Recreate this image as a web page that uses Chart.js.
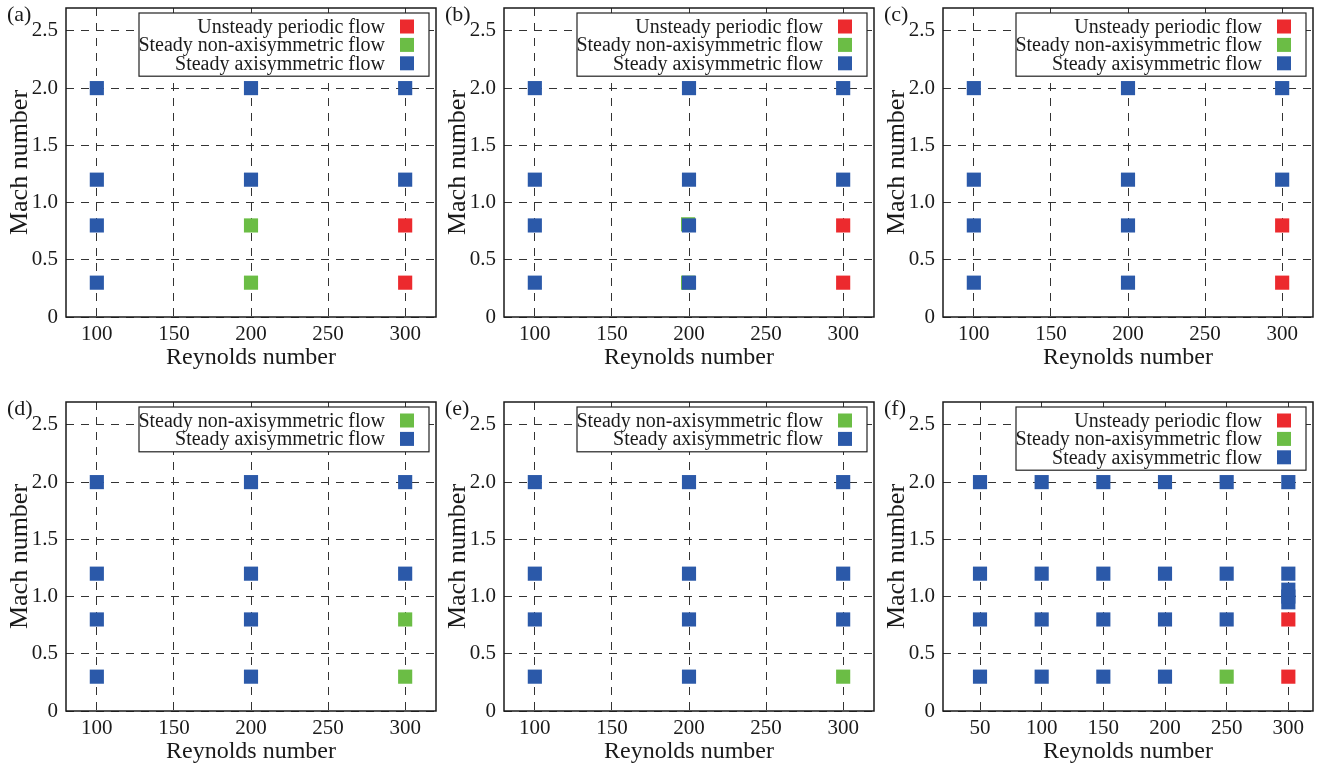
<!DOCTYPE html>
<html>
<head>
<meta charset="utf-8">
<script src="https://cdn.jsdelivr.net/npm/chart.js@4.4.1/dist/chart.umd.min.js"></script>
<style>
  html, body { margin: 0; padding: 0; background: #fff; width: 1322px; height: 769px; overflow: hidden; }
  .panel { position: absolute; width: 440px; height: 385px; }
</style>
</head>
<body>
<div class="panel" style="left:0;top:0"><canvas id="pa" width="440" height="385"></canvas></div>
<div class="panel" style="left:438px;top:0"><canvas id="pb" width="440" height="385"></canvas></div>
<div class="panel" style="left:877px;top:0"><canvas id="pc" width="440" height="385"></canvas></div>
<div class="panel" style="left:0;top:394px"><canvas id="pd" width="440" height="385"></canvas></div>
<div class="panel" style="left:438px;top:394px"><canvas id="pe" width="440" height="385"></canvas></div>
<div class="panel" style="left:877px;top:394px"><canvas id="pf" width="440" height="385"></canvas></div>
<script>
// tick values
const reTicks = [100, 150, 200, 250, 300];
const reTicksF = [50, 100, 150, 200, 250, 300];
const machTicks = [0, 0.5, 1.0, 1.5, 2.0, 2.5];

// (a)
const aUnsteady = [[300, 0.3], [300, 0.8]];
const aNonAxi = [[200, 0.3], [200, 0.8]];
const aAxi = [[100, 0.3], [100, 0.8], [100, 1.2], [100, 2.0], [200, 1.2], [200, 2.0], [300, 1.2], [300, 2.0]];
// (b)
const bUnsteady = [[300, 0.3], [300, 0.8]];
const bNonAxi = [[199.4, 0.3], [199.4, 0.81]];
const bAxi = [[100, 0.3], [100, 0.8], [100, 1.2], [100, 2.0], [200, 0.3], [200, 0.8], [200, 1.2], [200, 2.0], [300, 1.2], [300, 2.0]];
// (c)
const cUnsteady = [[300, 0.3], [300, 0.8]];
const cNonAxi = [];
const cAxi = [[100, 0.3], [100, 0.8], [100, 1.2], [100, 2.0], [200, 0.3], [200, 0.8], [200, 1.2], [200, 2.0], [300, 1.2], [300, 2.0]];
// (d)
const dNonAxi = [[300, 0.3], [300, 0.8]];
const dAxi = [[100, 0.3], [100, 0.8], [100, 1.2], [100, 2.0], [200, 0.3], [200, 0.8], [200, 1.2], [200, 2.0], [300, 1.2], [300, 2.0]];
// (e)
const eNonAxi = [[300, 0.3]];
const eAxi = [[100, 0.3], [100, 0.8], [100, 1.2], [100, 2.0], [200, 0.3], [200, 0.8], [200, 1.2], [200, 2.0], [300, 0.8], [300, 1.2], [300, 2.0]];
// (f)
const fUnsteady = [[300, 0.3], [300, 0.8]];
const fNonAxi = [[250, 0.3]];
const fAxi = [
  [50, 0.3], [50, 0.8], [50, 1.2], [50, 2.0],
  [100, 0.3], [100, 0.8], [100, 1.2], [100, 2.0],
  [150, 0.3], [150, 0.8], [150, 1.2], [150, 2.0],
  [200, 0.3], [200, 0.8], [200, 1.2], [200, 2.0],
  [250, 0.8], [250, 1.2], [250, 2.0],
  [300, 0.95], [300, 1.0], [300, 1.06], [300, 1.2], [300, 2.0]
];

const RED = '#ec2a2e';
const GREEN = '#6bbd45';
const BLUE = '#2b59a9';
const SERIF = '"Liberation Serif", "Times New Roman", serif';

const unsteady = (pts) => ({ label: 'Unsteady periodic flow', color: RED, pts, order: 1 });
const nonAxi = (pts) => ({ label: 'Steady non-axisymmetric flow', color: GREEN, pts, order: 2 });
const axi = (pts) => ({ label: 'Steady axisymmetric flow', color: BLUE, pts, order: 0 });

// box, legend and panel letter
const framePlugin = {
  id: 'frame',
  afterDatasetsDraw(chart, args, opts) {
    const { ctx, chartArea: a } = chart;
    ctx.save();
    ctx.strokeStyle = '#1a1a1a';
    ctx.lineWidth = 1.5;
    ctx.strokeRect(a.left, a.top, a.right - a.left, a.bottom - a.top);

    const sets = chart.data.datasets;
    const lineH = 18.4;
    const boxR = a.right - 7;
    const boxW = 290;
    const boxT = a.top + 5;
    const boxH = lineH * sets.length + 8;
    ctx.fillStyle = '#fff';
    ctx.fillRect(boxR - boxW, boxT, boxW, boxH);
    ctx.lineWidth = 1.2;
    ctx.strokeStyle = '#222';
    ctx.strokeRect(boxR - boxW, boxT, boxW, boxH);
    ctx.font = `20px ${SERIF}`;
    ctx.textAlign = 'right';
    ctx.textBaseline = 'middle';
    sets.forEach((ds, i) => {
      const cy = boxT + 13.5 + i * lineH;
      ctx.fillStyle = '#1a1a1a';
      ctx.fillText(ds.label, boxR - 44, cy + 1);
      ctx.fillStyle = ds.backgroundColor;
      ctx.fillRect(boxR - 29, cy - 7, 14, 14);
    });

    ctx.fillStyle = '#1a1a1a';
    ctx.font = `22px ${SERIF}`;
    ctx.textAlign = 'left';
    ctx.textBaseline = 'top';
    ctx.fillText(opts.label, 7, a.top - 4);
    ctx.restore();
  }
};

const makePanel = (id, letter, series, xTicks, xMin) => {
  new Chart(document.getElementById(id), {
    type: 'scatter',
    data: {
      datasets: series.map((s) => ({
        label: s.label,
        data: s.pts.map(([x, y]) => ({ x, y })),
        backgroundColor: s.color,
        borderWidth: 0,
        pointStyle: 'rect',
        pointRadius: 10,
        pointHoverRadius: 10,
        order: s.order,
      })),
    },
    options: {
      responsive: false,
      animation: false,
      events: [],
      layout: { autoPadding: false, padding: { top: 8, right: 4, left: 0, bottom: 0 } },
      plugins: {
        legend: { display: false },
        tooltip: { enabled: false },
        frame: { label: letter },
      },
      scales: {
        x: {
          type: 'linear',
          min: xMin,
          max: 320,
          afterBuildTicks: (scale) => { scale.ticks = xTicks.map((value) => ({ value })); },
          afterFit: (scale) => {
            scale.height = 68;
            scale.paddingLeft = 0;
            scale.paddingRight = 0;
          },
          grid: { color: '#333', lineWidth: 1, drawTicks: false },
          border: { display: false, dash: [8, 7] },
          ticks: { color: '#1a1a1a', font: { family: SERIF, size: 21 }, padding: 5, autoSkip: false, maxRotation: 0 },
          title: {
            display: true,
            text: 'Reynolds number',
            color: '#1a1a1a',
            font: { family: SERIF, size: 24 },
            padding: { top: 0, bottom: 13 },
          },
        },
        y: {
          type: 'linear',
          min: 0,
          max: 2.7,
          afterBuildTicks: (scale) => { scale.ticks = machTicks.map((value) => ({ value })); },
          afterFit: (scale) => {
            scale.width = 66;
            scale.paddingTop = 0;
            scale.paddingBottom = 0;
          },
          grid: { color: '#333', lineWidth: 1, drawTicks: false },
          border: { display: false, dash: [8, 7] },
          ticks: {
            color: '#1a1a1a',
            font: { family: SERIF, size: 21 },
            padding: 8,
            callback: (v) => (v === 0 ? '0' : v.toFixed(1)),
          },
          title: {
            display: true,
            text: 'Mach number',
            color: '#1a1a1a',
            font: { family: SERIF, size: 26 },
            padding: { top: 5, bottom: 0 },
          },
        },
      },
    },
    plugins: [framePlugin],
  });
};

makePanel('pa', '(a)', [unsteady(aUnsteady), nonAxi(aNonAxi), axi(aAxi)], reTicks, 80);
makePanel('pb', '(b)', [unsteady(bUnsteady), nonAxi(bNonAxi), axi(bAxi)], reTicks, 80);
makePanel('pc', '(c)', [unsteady(cUnsteady), nonAxi(cNonAxi), axi(cAxi)], reTicks, 80);
makePanel('pd', '(d)', [nonAxi(dNonAxi), axi(dAxi)], reTicks, 80);
makePanel('pe', '(e)', [nonAxi(eNonAxi), axi(eAxi)], reTicks, 80);
makePanel('pf', '(f)', [unsteady(fUnsteady), nonAxi(fNonAxi), axi(fAxi)], reTicksF, 20);
</script>
</body>
</html>
